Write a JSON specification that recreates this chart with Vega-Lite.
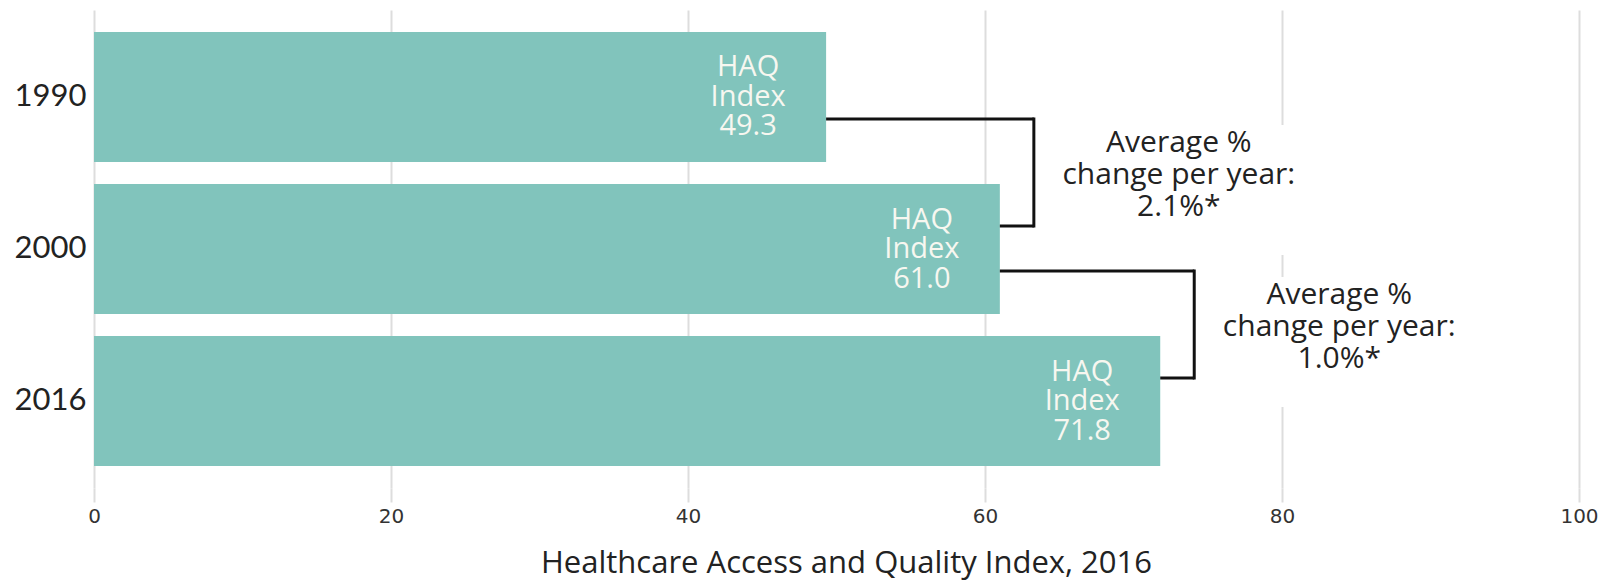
{
  "$schema": "https://vega.github.io/schema/vega-lite/v6.json",
  "width": 1485,
  "height": 478,
  "autosize": {"type": "none"},
  "padding": {"left": 94, "top": 10, "right": 25, "bottom": 92},
  "background": "white",
  "config": {"view": {"stroke": null}, "font": "Open Sans"},
  "datasets": {
    "bars": [
      {"year": "1990", "haq": 49.3, "label": "HAQ\nIndex\n49.3"},
      {"year": "2000", "haq": 61.0, "label": "HAQ\nIndex\n61.0"},
      {"year": "2016", "haq": 71.8, "label": "HAQ\nIndex\n71.8"}
    ],
    "changes": [
      {"from_year": "1990", "to_year": "2000", "from_haq": 49.3, "to_haq": 61.0, "note": "Average %\nchange per year:\n2.1%*"},
      {"from_year": "2000", "to_year": "2016", "from_haq": 61.0, "to_haq": 71.8, "note": "Average %\nchange per year:\n1.0%*"}
    ]
  },
  "layer": [
    {
      "data": {"name": "bars"},
      "mark": {"type": "bar", "color": "#81c4bc"},
      "encoding": {
        "y": {
          "field": "year", "type": "nominal",
          "scale": {"domain": ["1990", "2000", "2016"], "paddingInner": 0.1447, "paddingOuter": 0.1447},
          "axis": {"title": null, "ticks": false, "domain": false, "labelPadding": 8, "labelFont": "Lato", "labelFontSize": 31, "labelColor": "#222222", "grid": false}
        },
        "x": {
          "field": "haq", "type": "quantitative",
          "scale": {"domain": [0, 100], "nice": false},
          "axis": {
            "title": "Healthcare Access and Quality Index, 2016",
            "values": [0, 20, 40, 60, 80, 100],
            "grid": true, "gridColor": "#dddddd", "gridWidth": 2,
            "domain": false, "tickColor": "#dddddd", "tickWidth": 2, "tickSize": 14,
            "labelFlush": false,
            "labelFont": "DejaVu Sans", "labelFontSize": 20, "labelColor": "#333333", "labelPadding": 4,
            "titleFont": "Open Sans", "titleFontSize": 31, "titleFontWeight": "normal", "titleColor": "#222222",
            "titleBaseline": "alphabetic", "titleY": 84, "titleX": 752, "titleAlign": "center"
          }
        }
      }
    },
    {
      "data": {"name": "bars"},
      "mark": {"type": "text", "align": "center", "baseline": "middle", "dx": -78, "dy": -29.5, "fontSize": 29, "lineHeight": 29.5, "color": "#f7f7f0", "lineBreak": "\n", "font": "Open Sans"},
      "encoding": {
        "x": {"field": "haq", "type": "quantitative"},
        "y": {"field": "year", "type": "nominal"},
        "text": {"field": "label"}
      }
    },
    {
      "data": {"name": "changes"},
      "mark": {"type": "rect", "color": "white", "xOffset": 55, "x2Offset": 302, "yOffset": 28, "y2Offset": 6},
      "encoding": {
        "x": {"field": "to_haq", "type": "quantitative"},
        "x2": {"field": "to_haq"},
        "y": {"field": "from_year", "type": "nominal"},
        "y2": {"field": "to_year"}
      }
    },
    {
      "data": {"name": "changes"},
      "mark": {"type": "rule", "color": "#111111", "strokeWidth": 3, "x2Offset": 34, "yOffset": 22},
      "encoding": {
        "x": {"field": "from_haq", "type": "quantitative"},
        "x2": {"field": "to_haq"},
        "y": {"field": "from_year", "type": "nominal"}
      }
    },
    {
      "data": {"name": "changes"},
      "mark": {"type": "rule", "color": "#111111", "strokeWidth": 3, "strokeCap": "square", "xOffset": 34, "yOffset": 22, "y2Offset": -23},
      "encoding": {
        "x": {"field": "to_haq", "type": "quantitative"},
        "y": {"field": "from_year", "type": "nominal"},
        "y2": {"field": "to_year"}
      }
    },
    {
      "data": {"name": "changes"},
      "mark": {"type": "rule", "color": "#111111", "strokeWidth": 3, "x2Offset": 34, "yOffset": -23},
      "encoding": {
        "x": {"field": "to_haq", "type": "quantitative"},
        "x2": {"field": "to_haq"},
        "y": {"field": "to_year", "type": "nominal"}
      }
    },
    {
      "data": {"name": "changes"},
      "mark": {"type": "text", "align": "center", "baseline": "middle", "dx": 179, "dy": -106, "fontSize": 30, "lineHeight": 32, "color": "#222222", "lineBreak": "\n", "font": "Open Sans"},
      "encoding": {
        "x": {"field": "to_haq", "type": "quantitative"},
        "y": {"field": "to_year", "type": "nominal"},
        "text": {"field": "note"}
      }
    }
  ]
}
